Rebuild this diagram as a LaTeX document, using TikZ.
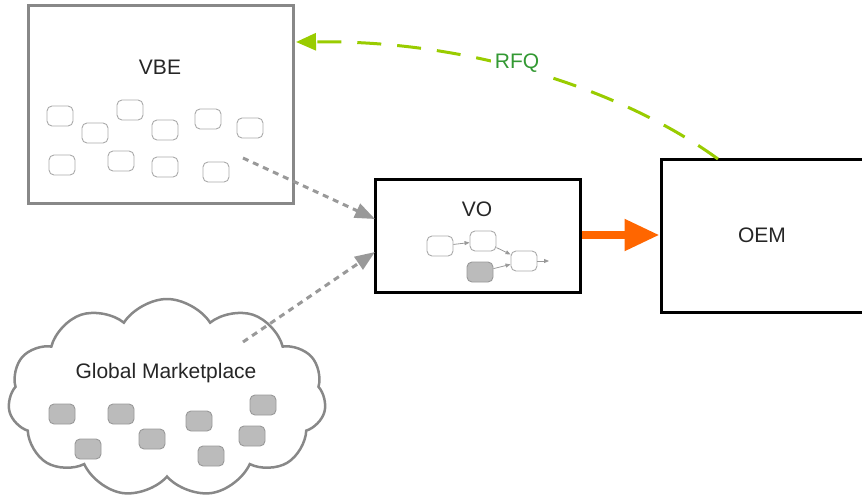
\documentclass[tikz,border=0pt]{standalone}
\usepackage{fontspec}
\setmainfont{Liberation Sans}
\usetikzlibrary{arrows.meta,shapes.symbols}
\definecolor{boxgray}{HTML}{888888}
\definecolor{minigray}{HTML}{AAAAAA}
\definecolor{fillgray}{HTML}{BBBBBB}
\definecolor{dotgray}{HTML}{999999}
\definecolor{rfqline}{HTML}{99CC00}
\definecolor{rfqtext}{HTML}{339933}
\definecolor{orangearr}{HTML}{FF6600}
\tikzset{
  lbl/.style={font=\fontsize{21}{24}\selectfont, text=black!85},
  minibox/.style={draw=minigray, line width=0.9pt, fill=white, rounded corners=5pt, minimum width=26pt, minimum height=20pt, inner sep=0pt},
  grayminibox/.style={minibox, fill=fillgray, draw=dotgray},
  dotarrow/.style={draw=dotgray, line width=3pt, dash pattern=on 6pt off 5pt, -{Triangle[length=20pt,width=15pt]}},
  miniarrow/.style={draw=dotgray, line width=0.8pt, -{Triangle[length=5pt,width=4pt]}},
}
\begin{document}
\begin{tikzpicture}[x=1pt,y=-1pt]
\useasboundingbox (0,0) rectangle (862,501);
% VBE
\node[draw=boxgray, line width=3pt, minimum width=265pt, minimum height=198pt, inner sep=0pt] (vbe) at (161,104.5) {};
\node[lbl] (vbelbl) at (160,67) {VBE};
\node[minibox] (b1) at (60,116) {};
\node[minibox] (b2) at (95,133) {};
\node[minibox] (b3) at (130,110) {};
\node[minibox] (b4) at (165,130) {};
\node[minibox] (b5) at (208,119) {};
\node[minibox] (b6) at (250,128) {};
\node[minibox] (b7) at (62,165) {};
\node[minibox] (b8) at (121,161) {};
\node[minibox] (b9) at (165,167) {};
\node[minibox] (b10) at (216,172) {};
% VO
\node[draw=black, line width=3pt, minimum width=205pt, minimum height=113pt, inner sep=0pt] (vo) at (477.5,235.5) {};
\node[lbl] (volbl) at (477,209) {VO};
\node[minibox] (v1) at (440,246) {};
\node[minibox] (v2) at (483,241) {};
\node[minibox] (v3) at (524,261) {};
\node[grayminibox] (v4) at (480,272) {};
\coordinate (vout) at (549,261);
\draw[miniarrow] (v1) -- (v2);
\draw[miniarrow] (v2) -- (v3);
\draw[miniarrow] (v4) -- (v3);
\draw[miniarrow] (v3) -- (vout);
% OEM
\node[draw=black, line width=3pt, minimum width=220pt, minimum height=153pt, inner sep=0pt] (oem) at (771,235.5) {};
\node[lbl] (oemlbl) at (762,235) {OEM};
% Cloud
\node[cloud, draw=boxgray, line width=2.5pt, cloud puffs=11, cloud puff arc=115, aspect=1.6, minimum width=318pt, minimum height=198pt, inner sep=0pt] (gm) at (167,398) {};
\node[lbl] (gmlbl) at (166,373) {Global Marketplace};
\node[grayminibox] (g1) at (62,414) {};
\node[grayminibox] (g2) at (121,414) {};
\node[grayminibox] (g3) at (199,421) {};
\node[grayminibox] (g4) at (263,405) {};
\node[grayminibox] (g5) at (88,449) {};
\node[grayminibox] (g6) at (152,439) {};
\node[grayminibox] (g7) at (252,436) {};
\node[grayminibox] (g8) at (211,456) {};
% connectors
\coordinate (s1) at (243,158);
\coordinate (s2) at (243,342);
\coordinate (t1) at (375,219);
\coordinate (t2) at (375,252);
\draw[dotarrow] (s1) -- (t1);
\draw[dotarrow] (s2) -- (t2);
\draw[orangearr, line width=8pt, -{Triangle[length=35pt,width=30pt]}] (vo.east |- 0,235) -- (oem.west |- 0,235);
\coordinate (rfqstart) at (718,159);
\coordinate (rfqend) at (296,42);
\draw[rfqline, line width=3pt, dash pattern=on 24pt off 16pt, -{Triangle[length=20pt,width=17pt]}] (rfqstart) .. controls (630,95) and (480,40) .. (rfqend);
\node[font=\fontsize{21}{24}\selectfont, text=rfqtext, fill=white, inner sep=4pt] (rfq) at (517,63) {RFQ};
\end{tikzpicture}
\end{document}
